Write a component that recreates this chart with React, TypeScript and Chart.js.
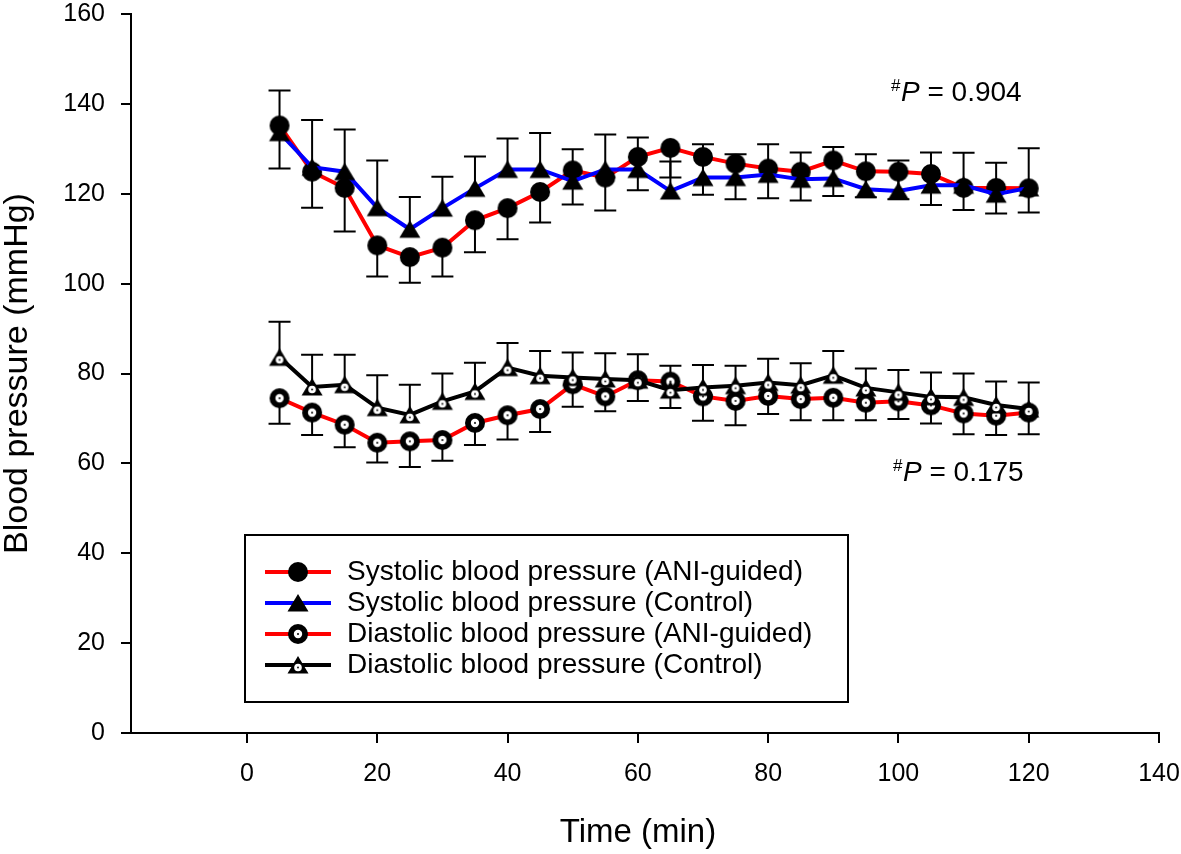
import React, { useEffect, useRef } from 'react';
import { Chart, registerables } from 'chart.js';

Chart.register(...registerables);

const FONT = '"Liberation Sans", Arial, Helvetica, sans-serif';

// Time points (min)
const times = [5, 10, 15, 20, 25, 30, 35, 40, 45, 50, 55, 60, 65, 70, 75, 80, 85, 90, 95, 100, 105, 110, 115, 120];

// Systolic, ANI-guided (mean, lower error)
const sysAni = [135.2, 124.9, 121.3, 108.5, 105.9, 108.0, 114.1, 116.8, 120.4, 125.2, 123.6, 128.2, 130.2, 128.2, 126.7, 125.6, 124.9, 127.4, 125.0, 124.9, 124.4, 121.3, 121.3, 121.2];
const sysAniErr = [9.6, 8.0, 9.7, 6.9, 5.7, 6.4, 7.1, 6.9, 6.8, 7.6, 7.3, 7.4, 6.6, 8.4, 7.9, 6.6, 6.4, 7.9, 5.8, 6.1, 6.9, 4.9, 5.7, 5.4];

// Systolic, Control (mean, upper error)
const sysCtl = [133.6, 125.9, 124.9, 116.9, 112.1, 116.8, 121.2, 125.4, 125.4, 122.8, 125.4, 125.4, 120.6, 123.6, 123.6, 124.3, 123.2, 123.4, 121.0, 120.6, 121.9, 121.9, 119.9, 121.3];
const sysCtlErr = [9.4, 10.5, 9.4, 10.5, 7.2, 7.0, 7.1, 6.9, 8.1, 7.1, 7.8, 7.1, 6.6, 7.4, 5.2, 6.7, 6.0, 7.0, 7.8, 6.8, 7.3, 7.2, 7.0, 8.8];

// Diastolic, ANI-guided (mean, lower error)
const diaAni = [74.5, 71.3, 68.6, 64.6, 64.9, 65.2, 69.0, 70.7, 72.1, 77.6, 74.9, 78.5, 78.2, 74.9, 73.9, 75.0, 74.3, 74.6, 73.5, 73.8, 72.9, 71.1, 70.6, 71.3];
const diaAniErr = [5.7, 5.0, 5.0, 4.4, 5.7, 4.6, 4.9, 5.4, 5.1, 5.0, 3.3, 4.6, 5.9, 5.4, 5.4, 4.0, 4.7, 5.0, 3.9, 3.9, 4.0, 4.6, 4.3, 4.8];

// Diastolic, Control (mean, upper error)
const diaCtl = [83.6, 77.0, 77.5, 72.4, 70.8, 73.8, 76.0, 81.3, 79.5, 79.1, 78.8, 78.5, 76.3, 76.9, 77.3, 78.0, 77.4, 79.6, 76.8, 75.8, 74.8, 74.7, 73.0, 72.1];
const diaCtlErr = [7.9, 7.2, 6.7, 7.2, 6.7, 6.2, 6.4, 5.5, 5.5, 5.6, 5.7, 5.8, 5.4, 5.0, 4.4, 5.3, 4.9, 5.4, 4.3, 5.0, 5.4, 5.3, 5.2, 5.9];

const xTicks = [0, 20, 40, 60, 80, 100, 120, 140];
const yTicks = [0, 20, 40, 60, 80, 100, 120, 140, 160];

const xTitle = 'Time (min)';
const yTitle = 'Blood pressure (mmHg)';
const legendLabels = [
  'Systolic blood pressure (ANI-guided)',
  'Systolic blood pressure (Control)',
  'Diastolic blood pressure (ANI-guided)',
  'Diastolic blood pressure (Control)',
];
const seriesColors = ['rgb(255,0,0)', 'rgb(0,0,255)', 'rgb(255,0,0)', 'rgb(0,0,0)'];
const pValues = ['0.904', '0.175'];

type MarkerKind = 'circle' | 'triangle' | 'ring' | 'dotTriangle';

function makeMarker(kind: MarkerKind): HTMLCanvasElement {
  const c = document.createElement('canvas');
  c.width = 24;
  c.height = 24;
  const g = c.getContext('2d') as CanvasRenderingContext2D;
  g.fillStyle = '#000';
  if (kind === 'circle' || kind === 'ring') {
    g.beginPath();
    g.arc(12, 12, 10, 0, Math.PI * 2);
    g.fill();
  } else {
    g.beginPath();
    g.moveTo(12, 3);
    g.lineTo(22.5, 20.5);
    g.lineTo(1.5, 20.5);
    g.closePath();
    g.fill();
  }
  if (kind === 'ring') {
    g.fillStyle = '#fff';
    g.beginPath();
    g.arc(12, 12, 4.2, 0, Math.PI * 2);
    g.fill();
    g.fillStyle = '#000';
    g.beginPath();
    g.arc(12, 12, 1, 0, Math.PI * 2);
    g.fill();
  }
  if (kind === 'dotTriangle') {
    g.fillStyle = '#fff';
    g.beginPath();
    g.arc(12, 14.5, 3.8, 0, Math.PI * 2);
    g.fill();
    g.fillStyle = '#000';
    g.beginPath();
    g.arc(12, 14.5, 0.9, 0, Math.PI * 2);
    g.fill();
  }
  return c;
}

const errorBarsPlugin = {
  id: 'errorBars',
  beforeDatasetsDraw(chart: any) {
    const { ctx, scales } = chart;
    const x = scales.x;
    const y = scales.y;
    ctx.save();
    ctx.strokeStyle = '#000';
    ctx.lineWidth = 2;
    const draw = (vals: number[], errs: number[], dir: number) => {
      times.forEach((t, i) => {
        const px = x.getPixelForValue(t);
        const py = y.getPixelForValue(vals[i]);
        const pe = y.getPixelForValue(vals[i] + dir * errs[i]);
        ctx.beginPath();
        ctx.moveTo(px, py);
        ctx.lineTo(px, pe);
        ctx.moveTo(px - 11, pe);
        ctx.lineTo(px + 11, pe);
        ctx.stroke();
      });
    };
    draw(sysAni, sysAniErr, -1);
    draw(sysCtl, sysCtlErr, 1);
    draw(diaAni, diaAniErr, -1);
    draw(diaCtl, diaCtlErr, 1);
    ctx.restore();
  },
};

export default function App() {
  const ref = useRef<HTMLCanvasElement | null>(null);

  useEffect(() => {
    const canvas = ref.current;
    if (!canvas) return;
    const markers = [makeMarker('circle'), makeMarker('triangle'), makeMarker('ring'), makeMarker('dotTriangle')];

    const overlayPlugin = {
      id: 'overlay',
      afterDraw(chart: any) {
        const ctx = chart.ctx as CanvasRenderingContext2D;
        ctx.save();
        ctx.fillStyle = '#000';
        // X axis title
        ctx.font = `33px ${FONT}`;
        ctx.textAlign = 'center';
        ctx.textBaseline = 'alphabetic';
        ctx.fillText(xTitle, 638, 842);

        // P-values
        const drawP = (x: number, base: number, val: string) => {
          ctx.textBaseline = 'alphabetic';
          ctx.textAlign = 'left';
          ctx.font = `17px ${FONT}`;
          ctx.fillText('#', x, base - 10);
          ctx.font = `italic 28px ${FONT}`;
          ctx.fillText('P', x + 10, base);
          const w = ctx.measureText('P').width;
          ctx.font = `28px ${FONT}`;
          ctx.fillText(' = ' + val, x + 10 + w, base);
        };
        drawP(891, 101, pValues[0]);
        drawP(893, 481, pValues[1]);

        // Legend
        ctx.strokeStyle = '#000';
        ctx.lineWidth = 2;
        ctx.strokeRect(245, 535, 603, 167);
        legendLabels.forEach((label, i) => {
          const cy = 572 + i * 31;
          ctx.strokeStyle = seriesColors[i];
          ctx.lineWidth = 4;
          ctx.beginPath();
          ctx.moveTo(265, cy);
          ctx.lineTo(331, cy);
          ctx.stroke();
          ctx.drawImage(markers[i], 298 - 12, cy - 12);
          ctx.fillStyle = '#000';
          ctx.font = `28px ${FONT}`;
          ctx.textBaseline = 'middle';
          ctx.textAlign = 'left';
          ctx.fillText(label, 347, cy);
        });
        ctx.restore();
      },
    };

    const series = [sysAni, sysCtl, diaAni, diaCtl];
    const chart = new Chart(canvas, {
      type: 'line',
      data: {
        datasets: series.map((vals, i) => ({
          label: legendLabels[i],
          data: times.map((t, j) => ({ x: t, y: vals[j] })),
          borderColor: seriesColors[i],
          backgroundColor: seriesColors[i],
          borderWidth: 4,
          pointStyle: markers[i] as any,
          pointRadius: 10,
          order: 4 - i,
          tension: 0,
        })),
      },
      options: {
        animation: false,
        responsive: false,
        devicePixelRatio: 1,
        layout: { padding: { left: 0, top: 13, right: 22, bottom: 0 } },
        plugins: {
          legend: { display: false },
          tooltip: { enabled: false },
          title: { display: false },
        },
        scales: {
          x: {
            type: 'linear',
            min: -17.8,
            max: 140,
            afterBuildTicks: (s: any) => {
              s.ticks = xTicks.map((v) => ({ value: v }));
            },
            afterFit: (s: any) => {
              s.height = 121;
              s.paddingLeft = 0;
              s.paddingRight = 0;
            },
            grid: { display: true, drawOnChartArea: false, drawTicks: true, tickLength: 10, color: '#000', lineWidth: 2 },
            border: { display: true, color: '#000', width: 2 },
            ticks: { color: '#000', font: { family: FONT, size: 25 }, padding: 16, maxRotation: 0 },
            title: { display: false },
          },
          y: {
            type: 'linear',
            min: 0,
            max: 160,
            afterBuildTicks: (s: any) => {
              s.ticks = yTicks.map((v) => ({ value: v }));
            },
            afterFit: (s: any) => {
              s.width = 131;
              s.paddingTop = 0;
              s.paddingBottom = 0;
            },
            grid: { display: true, drawOnChartArea: false, drawTicks: true, tickLength: 10, color: '#000', lineWidth: 2 },
            border: { display: true, color: '#000', width: 2 },
            ticks: { color: '#000', font: { family: FONT, size: 25 }, padding: 16 },
            title: {
              display: true,
              text: yTitle,
              color: '#000',
              font: { family: FONT, size: 34, lineHeight: 1 },
              padding: { top: 1, bottom: 0 },
            },
          },
        },
      },
      plugins: [errorBarsPlugin, overlayPlugin],
    } as any);
    return () => chart.destroy();
  }, []);

  return (
    <div style={{ position: 'absolute', left: 0, top: 0, width: 1181, height: 854, background: '#fff' }}>
      <canvas ref={ref} width={1181} height={854} style={{ display: 'block' }} />
    </div>
  );
}
